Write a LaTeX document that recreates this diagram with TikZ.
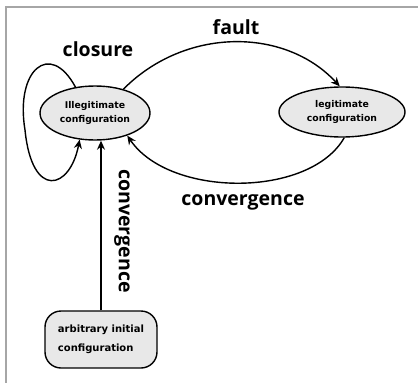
\documentclass[tikz,border=0pt]{standalone}
\usepackage{fontspec}
\setmainfont{Open Sans}
\newfontfamily\innerfont{DejaVu Sans}
\usetikzlibrary{arrows.meta,shapes.geometric}
\begin{document}
\begin{tikzpicture}[x=1pt,y=1pt,
  st/.style={ellipse,draw=black,line width=1.4pt,fill=gray!18,inner sep=0pt,align=center,
    font=\innerfont\fontsize{9.3}{14.5}\selectfont\bfseries},
  sbox/.style={rectangle,rounded corners=16pt,draw=black,line width=1.4pt,fill=gray!18,inner sep=0pt,align=left,
    font=\innerfont\fontsize{10}{19}\selectfont\bfseries},
  arr/.style={line width=1.4pt,-{Stealth[length=9pt,width=8pt]}},
  lbl/.style={font=\fontsize{19.5}{24}\selectfont\bfseries}]
\useasboundingbox (0,0) rectangle (418,-383);
\draw[gray!70,line width=1.3pt] (6,-383) -- (6,-7) -- (418,-7);
\node[st,minimum width=110pt,minimum height=54pt] (ill) at (95,-113) {Illegitimate\\configuration};
\node[st,minimum width=126pt,minimum height=50pt] (leg) at (342,-112) {legitimate\\configuration};
\node[sbox,minimum width=112pt,minimum height=57pt] (arb) at (101,-339.5) {arbitrary initial\\configuration};
\draw[arr] (ill.127) .. controls (50,-40) and (15,-70) .. (25,-130) .. controls (32,-200) and (70,-190) .. (ill.240);
\draw[arr] (ill.40) .. controls (185,-27) and (285,-27) .. (leg.95);
\draw[arr] (leg.275) .. controls (310,-198) and (170,-198) .. (ill.-35);
\draw[arr] (arb.north) -- (arb.north |- ill.south);
\node[lbl] (lc) at (98,-49) {closure};
\node[lbl] (lf) at (236,-27) {fault};
\node[lbl] (lcv) at (243,-202) {convergence};
\node[lbl,rotate=-90] (lcv2) at (122,-231) {convergence};
\end{tikzpicture}
\end{document}
